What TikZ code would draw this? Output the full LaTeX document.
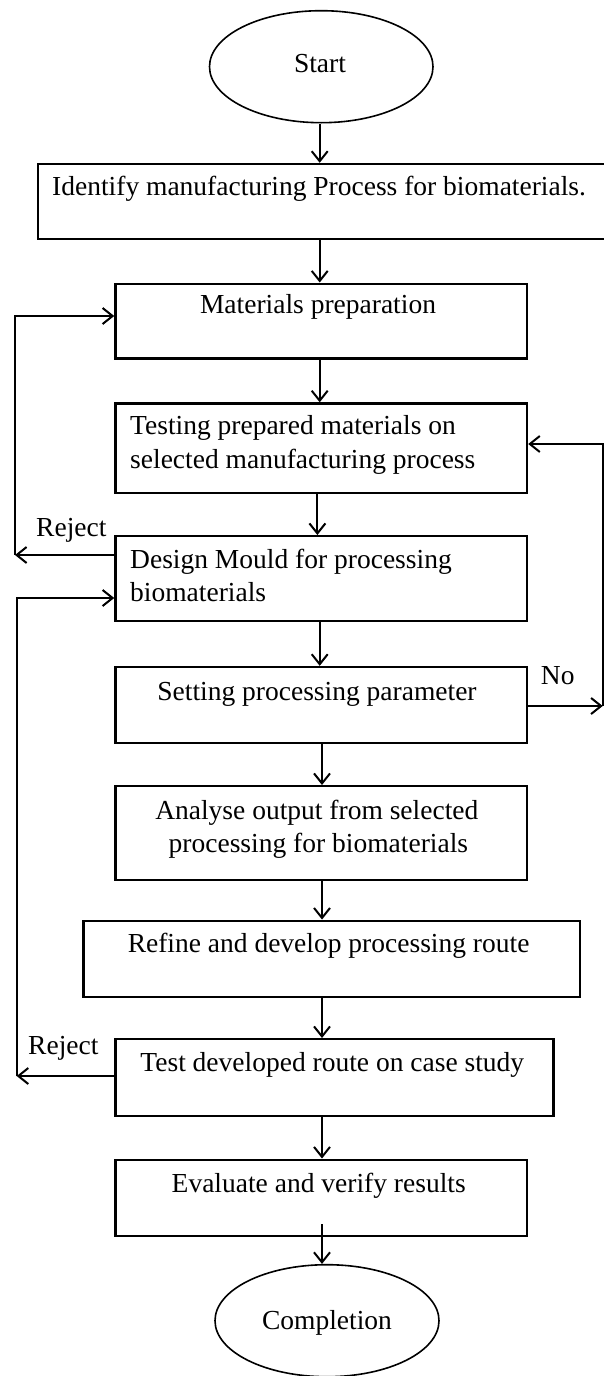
\documentclass[tikz,border=0pt]{standalone}
\usepackage{fontspec}
\setmainfont{Liberation Serif}
\usetikzlibrary{arrows.meta,shapes.geometric,calc}
\begin{document}
\begin{tikzpicture}[x=1pt,y=-1pt,
  box/.style={draw,line width=2.4pt,inner sep=0pt},
  oval/.style={draw,ellipse,line width=1.6pt,inner sep=0pt},
  txt/.style={font=\fontsize{27.5}{34}\selectfont,inner sep=0pt},
  arr/.style={line width=2pt,-{Straight Barb[length=10pt,width=16pt,line width=2pt]}},
  ln/.style={line width=2pt}]
\useasboundingbox (0,0) rectangle (604,1376);
% shapes
\node[oval,minimum width=223.5pt,minimum height=112pt] (start) at (321.25,66.7) {};
\node[box,minimum width=568pt,minimum height=74.7pt] (b1) at (322,201.35) {};
\node[box,minimum width=411.6pt,minimum height=74.6pt] (b2) at (321.2,321) {};
\node[box,minimum width=411.6pt,minimum height=89.7pt] (b3) at (321.2,448.35) {};
\node[box,minimum width=411.6pt,minimum height=85pt] (b4) at (321.2,578.7) {};
\node[box,minimum width=411.6pt,minimum height=76.2pt] (b5) at (321.2,705.1) {};
\node[box,minimum width=411.6pt,minimum height=94pt] (b6) at (321.2,833.2) {};
\node[box,minimum width=496.1pt,minimum height=76pt] (b7) at (331.65,958.75) {};
\node[box,minimum width=438pt,minimum height=77pt] (b8) at (334.4,1077.7) {};
\node[box,minimum width=411.6pt,minimum height=76.1pt] (b9) at (321.2,1197.75) {};
\node[oval,minimum width=224pt,minimum height=112pt] (comp) at (327,1320.7) {};
% texts
\node[txt,anchor=base] (tstart) at (320,72.5) {Start};
\node[txt,anchor=base west] (t1) at (52,195.7) {Identify manufacturing Process for biomaterials.};
\node[txt,anchor=base] (t2) at (318,313) {Materials preparation};
\node[txt,anchor=base west] (t3a) at (130,434.3) {Testing prepared materials on};
\node[txt,anchor=base west] (t3b) at (130,468.3) {selected manufacturing process};
\node[txt,anchor=base west] (t4a) at (130,568.3) {Design Mould for processing};
\node[txt,anchor=base west] (t4b) at (130,601.7) {biomaterials};
\node[txt,anchor=base] (t5) at (317,700) {Setting processing parameter};
\node[txt,anchor=base] (t6a) at (316.8,819) {Analyse output from selected};
\node[txt,anchor=base] (t6b) at (318.4,852.3) {processing for biomaterials};
\node[txt,anchor=base] (t7) at (328.6,952.7) {Refine and develop processing route};
\node[txt,anchor=base] (t8) at (332.3,1071.7) {Test developed route on case study};
\node[txt,anchor=base] (t9) at (318.7,1192) {Evaluate and verify results};
\node[txt,anchor=base] (tcomp) at (327,1329) {Completion};
\node[txt,anchor=base west] (rej1) at (36,536) {Reject};
\node[txt,anchor=base west] (rej2) at (28,1054) {Reject};
\node[txt,anchor=base west] (no) at (540.7,684) {No};
% columns
\coordinate (c0) at (317.4,0);
\coordinate (c1) at (319.7,0);
\coordinate (c2) at (322,0);
% main arrows
\draw[arr] (start.south -| c1) -- (b1.north -| c1);
\draw[arr] (b1.south -| c1) -- (b2.north -| c1);
\draw[arr] (b2.south -| c1) -- (b3.north -| c1);
\draw[arr] (b3.south -| c0) -- (b4.north -| c0);
\draw[arr] (b4.south -| c1) -- (b5.north -| c1);
\draw[arr] (b5.south -| c2) -- (b6.north -| c2);
\draw[arr] (b6.south -| c2) -- (b7.north -| c2);
\draw[arr] (b7.south -| c2) -- (b8.north -| c2);
\draw[arr] (b8.south -| c2) -- (b9.north -| c2);
\draw[arr] ($(b9.south -| c2)+(0,-13)$) -- (comp.north -| c2);
% feedback loops
\coordinate (L1a) at (15,555);
\coordinate (L1b) at (15,316);
\draw[arr] (b4.west |- L1a) -- (L1a);
\draw[arr] (L1a) -- (L1b) -- (b2.west |- L1b);
\coordinate (R1a) at (602.7,706);
\coordinate (R1b) at (602.7,444);
\draw[arr] ($(b5.east |- R1a)+(-2,0)$) -- (R1a);
\draw[arr] (R1a) -- (R1b) -- (b3.east |- R1b);
\coordinate (L2a) at (16.7,1076);
\coordinate (L2b) at (16.7,598);
\draw[arr] (b8.west |- L2a) -- (L2a);
\draw[arr] (L2a) -- (L2b) -- (b4.west |- L2b);
\end{tikzpicture}
\end{document}
